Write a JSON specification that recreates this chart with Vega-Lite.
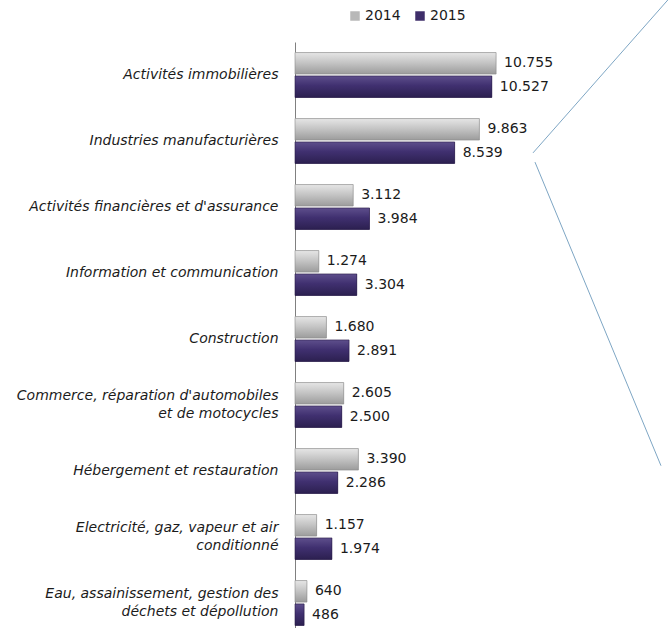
{
  "$schema": "https://vega.github.io/schema/vega-lite/v6.json",
  "width": 373,
  "height": 594,
  "autosize": {"type": "none"},
  "padding": {"left": 295, "top": 42, "right": 0, "bottom": 0},
  "background": "white",
  "config": {
    "view": {"stroke": null},
    "locale": {"number": {"decimal": ",", "thousands": ".", "grouping": [3], "currency": ["", " €"]}}
  },
  "datasets": {
    "bars": [
      {"sector": "Activités immobilières", "year": "2014", "value": 10755},
      {"sector": "Activités immobilières", "year": "2015", "value": 10527},
      {"sector": "Industries manufacturières", "year": "2014", "value": 9863},
      {"sector": "Industries manufacturières", "year": "2015", "value": 8539},
      {"sector": "Activités financières et d'assurance", "year": "2014", "value": 3112},
      {"sector": "Activités financières et d'assurance", "year": "2015", "value": 3984},
      {"sector": "Information et communication", "year": "2014", "value": 1274},
      {"sector": "Information et communication", "year": "2015", "value": 3304},
      {"sector": "Construction", "year": "2014", "value": 1680},
      {"sector": "Construction", "year": "2015", "value": 2891},
      {"sector": "Commerce, réparation d'automobiles|et de motocycles", "year": "2014", "value": 2605},
      {"sector": "Commerce, réparation d'automobiles|et de motocycles", "year": "2015", "value": 2500},
      {"sector": "Hébergement et restauration", "year": "2014", "value": 3390},
      {"sector": "Hébergement et restauration", "year": "2015", "value": 2286},
      {"sector": "Electricité, gaz, vapeur et air|conditionné", "year": "2014", "value": 1157},
      {"sector": "Electricité, gaz, vapeur et air|conditionné", "year": "2015", "value": 1974},
      {"sector": "Eau, assainissement, gestion des|déchets et dépollution", "year": "2014", "value": 640},
      {"sector": "Eau, assainissement, gestion des|déchets et dépollution", "year": "2015", "value": 486}
    ],
    "callout": [
      {"x": 12730, "x2": 19950, "y": 1.68, "y2": -0.64},
      {"x": 12836, "x2": 19575, "y": 1.82, "y2": 6.42}
    ]
  },
  "layer": [
    {
      "data": {"name": "bars"},
      "encoding": {
        "y": {
          "field": "sector",
          "type": "nominal",
          "sort": null,
          "scale": {"paddingInner": 0.32, "paddingOuter": 0.16},
          "axis": {
            "title": null,
            "ticks": false,
            "domainColor": "#808080",
            "labelPadding": 17,
            "labelFont": "DejaVu Sans",
            "labelFontStyle": "italic",
            "labelFontSize": 14,
            "labelColor": "#1b1b1b",
            "labelLimit": 400,
            "labelLineHeight": 18,
            "labelOffset": {"condition": {"test": "indexof(datum.label, '|') >= 0", "value": -9}, "value": 0},
            "labelExpr": "split(datum.label, '|')"
          }
        },
        "yOffset": {"field": "year", "type": "nominal", "scale": {"paddingInner": 0.08}},
        "x": {"field": "value", "type": "quantitative", "scale": {"domain": [0, 19950]}, "axis": null}
      },
      "layer": [
        {
          "mark": {"type": "bar"},
          "encoding": {
            "color": {
              "field": "year",
              "type": "nominal",
              "scale": {"domain": ["2014", "2015"], "range": ["#b8b8b8", "#3e2e6a"]},
              "legend": {
                "title": null,
                "orient": "none",
                "direction": "horizontal",
                "legendX": 53,
                "legendY": -33,
                "symbolType": "square",
                "symbolSize": 90,
                "labelOffset": 3,
                "labelFont": "DejaVu Sans",
                "labelFontSize": 14,
                "labelColor": "#1b1b1b",
                "columnPadding": 12
              }
            }
          }
        },
        {
          "transform": [{"filter": "datum.year == '2014'"}],
          "mark": {
            "type": "bar",
            "stroke": "#8a8a8a",
            "strokeWidth": 0.6,
            "color": {
              "gradient": "linear", "x1": 0, "y1": 0, "x2": 0, "y2": 1,
              "stops": [
                {"offset": 0, "color": "#e6e6e6"},
                {"offset": 0.45, "color": "#c6c6c6"},
                {"offset": 1, "color": "#9c9c9c"}
              ]
            }
          }
        },
        {
          "transform": [{"filter": "datum.year == '2015'"}],
          "mark": {
            "type": "bar",
            "stroke": "#261a45",
            "strokeWidth": 0.6,
            "color": {
              "gradient": "linear", "x1": 0, "y1": 0, "x2": 0, "y2": 1,
              "stops": [
                {"offset": 0, "color": "#5e4f8c"},
                {"offset": 0.45, "color": "#403070"},
                {"offset": 1, "color": "#2c2050"}
              ]
            }
          }
        },
        {
          "mark": {
            "type": "text",
            "align": "left",
            "baseline": "middle",
            "dx": 8,
            "font": "DejaVu Sans",
            "fontSize": 14,
            "color": "#1b1b1b"
          },
          "encoding": {
            "text": {"field": "value", "type": "quantitative", "format": ",.0f"}
          }
        }
      ]
    },
    {
      "data": {"name": "callout"},
      "mark": {"type": "rule", "color": "#7ea6c4", "strokeWidth": 1},
      "encoding": {
        "x": {"field": "x", "type": "quantitative", "scale": {"domain": [0, 19950]}, "axis": null},
        "x2": {"field": "x2"},
        "y": {"field": "y", "type": "quantitative", "scale": {"domain": [0, 9], "reverse": true}, "axis": null},
        "y2": {"field": "y2"}
      }
    }
  ],
  "resolve": {"scale": {"y": "independent"}}
}
